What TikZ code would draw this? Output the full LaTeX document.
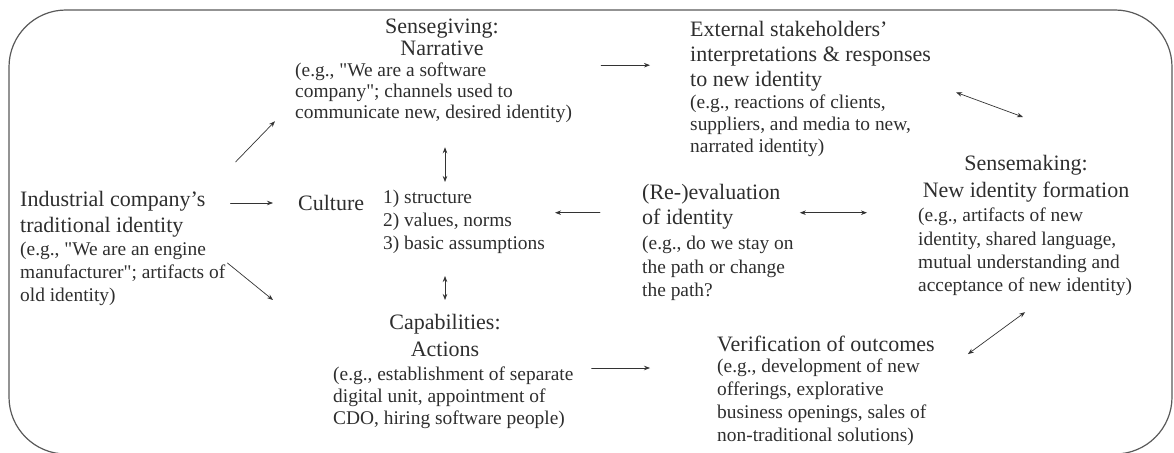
\documentclass[tikz,border=0pt]{standalone}
\usepackage{fontspec}
\setmainfont{Liberation Serif}
\newfontfamily\plainfont{Liberation Serif}
\usetikzlibrary{arrows.meta,calc}
\newcommand\dq{{\plainfont"}}
\begin{document}
\begin{tikzpicture}[x=1pt, y=-1pt, line join=round, line cap=round, >={Stealth[length=6pt,width=4.5pt]},
	hd/.style={font=\fontsize{22}{#1}\selectfont, inner sep=0pt, text=black!82}, hd/.default=25,
	eg/.style={font=\fontsize{19.4}{#1}\selectfont, inner sep=0pt, text=black!82, align=left, anchor=north west}, eg/.default=23,
	arr/.style={->, line width=0.7pt, draw=black!80}]
	\useasboundingbox (0,0) rectangle (1174,452);
	\draw[black!65, line width=1.2pt, rounded corners=57pt] (9,10) rectangle (1172,454);
	\node[hd=26, align=left, anchor=north west] (indT) at (20,191) {Industrial company's\\traditional identity};
	\node[eg] (indB) at (20,242) {(e.g., \dq We are an engine\\manufacturer\dq; artifacts of\\old identity)};
	\node[hd=22, align=center, anchor=north] (sgT) at (442,19) {Sensegiving:\\Narrative};
	\node[eg=21] (sgB) at (295,63) {(e.g., \dq We are a software\\company\dq; channels used to\\communicate new, desired identity)};
	\node[hd, align=left, anchor=north west] (extT) at (690,21) {External stakeholders'\\interpretations \& responses\\to new identity};
	\node[eg=22] (extB) at (690,95) {(e.g., reactions of clients,\\suppliers, and media to new,\\narrated identity)};
	\node[hd, anchor=west] (cult) at (298,203) {Culture};
	\node[eg] (cultL) at (383,190) {1) structure\\2) values, norms\\3) basic assumptions};
	\node[hd=27, align=center, anchor=north] (capT) at (445,314) {Capabilities:\\Actions};
	\node[eg=22] (capB) at (333,367) {(e.g., establishment of separate\\digital unit, appointment of\\CDO, hiring software people)};
	\node[hd, align=left, anchor=north west] (revT) at (642,184) {(Re-)evaluation\\of identity};
	\node[eg=23.5] (revB) at (642,236) {(e.g., do we stay on\\the path or change\\the path?};
	\node[hd=27, align=center, anchor=north] (smT) at (1026,155) {Sensemaking:\\New identity formation};
	\node[eg=23.3] (smB) at (918,208) {(e.g., artifacts of new\\identity, shared language,\\mutual understanding and\\acceptance of new identity)};
	\node[hd, anchor=north west] (verT) at (717,336) {Verification of outcomes};
	\node[eg] (verB) at (717,359) {(e.g., development of new\\offerings, explorative\\business openings, sales of\\non-traditional solutions)};
	\draw[arr] ($(indT.north east)+(30,-29)$) -- ($(sgB.south west)+(-20,-2)$);
	\draw[arr] ($(indT.east|-cult.west)+(25,0)$) -- ($(cult.west)+(-25,0)$);
	\draw[arr] ($(indB.north east)+(2,21)$) -- ($(capB.north west)+(-60,-67)$);
	\draw[arr, <->] ($(sgB.south-|capT.north)+(0,24)$) -- ($(cultL.north-|capT.north)+(0,-8)$);
	\draw[arr, <->] ($(cultL.south-|capT.north)+(0,22)$) -- ($(capT.north)+(0,-14)$);
	\draw[arr] ($(sgB.north east|-extT.west)+(29,9)$) -- ($(extT.west)+(-40,9)$);
	\draw[arr, <->] ($(extT.south east)+(25,1)$) -- ($(smT.north)+(-3,-38)$);
	\draw[arr] ($(revT.west)+(-42,6)$) -- ($(revT.west-|cultL.east)+(10,6)$);
	\draw[arr, <->] ($(revT.west-|revB.east)+(6,6)$) -- ($(revT.west-|smB.west)+(-51,6)$);
	\draw[arr] ($(verB.north west-|capB.east)+(18,9)$) -- ($(verB.north west)+(-67,9)$);
	\draw[arr, <->] ($(verT.east)+(33,10)$) -- ($(smB.south)+(0,16)$);
\end{tikzpicture}
\end{document}
